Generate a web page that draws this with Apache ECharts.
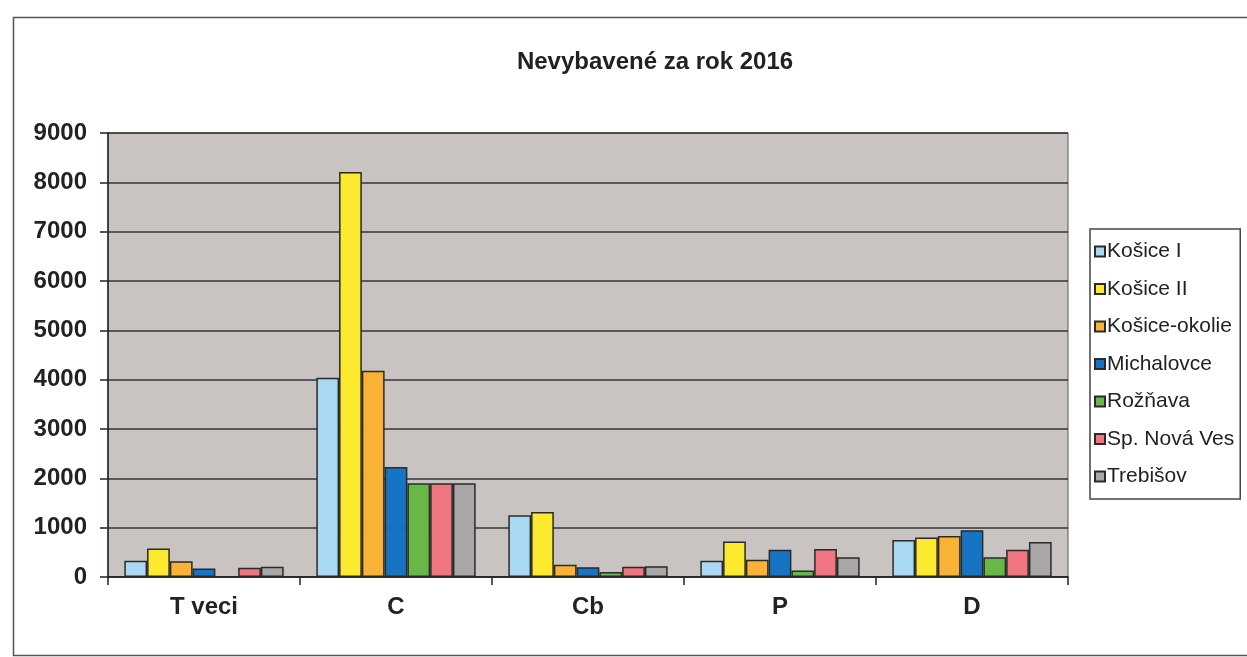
<!DOCTYPE html>
<html><head><meta charset="utf-8">
<script src="https://cdn.jsdelivr.net/npm/echarts@6/dist/echarts.min.js"></script>
<style>html,body{margin:0;padding:0;background:#fff}#c{width:1247px;height:657px}</style>
</head><body><div id="c"></div>
<script>
const categories = ['T veci', 'C', 'Cb', 'P', 'D'];
const seriesNames = ['Košice I', 'Košice II', 'Košice-okolie', 'Michalovce', 'Rožňava', 'Sp. Nová Ves', 'Trebišov'];
const kosiceI = [330, 4040, 1250, 330, 750];
const kosiceII = [580, 8210, 1320, 720, 800];
const kosiceOkolie = [320, 4180, 250, 350, 830];
const michalovce = [170, 2230, 200, 550, 950];
const roznava = [10, 1900, 100, 130, 400];
const spNovaVes = [190, 1900, 210, 570, 550];
const trebisov = [210, 1900, 220, 400, 710];
const yTicks = [0, 1000, 2000, 3000, 4000, 5000, 6000, 7000, 8000, 9000];
const colors = ['#a9d9f2', '#fde92d', '#f9b234', '#1674c2', '#68b848', '#ef7580', '#a9a6a6'];
const allData = [kosiceI, kosiceII, kosiceOkolie, michalovce, roznava, spNovaVes, trebisov];

const FONT = "'Liberation Sans Narrow', 'Liberation Sans', Arial, sans-serif";
const chart = echarts.init(document.getElementById('c'));
chart.setOption({
  animation: false,
  backgroundColor: '#fff',
  color: colors,
  title: {
    text: 'Nevybavené za rok 2016',
    left: 650, top: 45, textAlign: 'center',
    textStyle: {fontFamily: FONT, fontWeight: 'bold', fontSize: 24, color: '#222'}
  },
  graphic: [{
    type: 'rect', left: 11, top: 15, silent: true,
    shape: {width: 1250, height: 638},
    style: {fill: 'none', stroke: '#555', lineWidth: 1.5}
  }],
  legend: {
    orient: 'vertical', left: 1090, top: 229,
    width: 153,
    padding: [12, 6, 12, 4],
    itemGap: 16.5, itemWidth: 10, itemHeight: 10,
    borderColor: '#444', borderWidth: 1.5,
    icon: 'rect',
    textStyle: {fontFamily: FONT, fontSize: 21, color: '#222', padding: [0, 0, 0, -3]},
    data: seriesNames
  },
  grid: {
    left: 108, right: 179, top: 133, bottom: 80,
    show: true, backgroundColor: '#c9c4c1', borderColor: '#555', borderWidth: 1
  },
  xAxis: {
    type: 'category', data: categories,
    axisLine: {lineStyle: {color: '#222', width: 1.5}},
    axisTick: {show: true, length: 8, lineStyle: {color: '#222', width: 1.5}},
    axisLabel: {fontFamily: FONT, fontWeight: 'bold', fontSize: 24, color: '#222', margin: 18}
  },
  yAxis: {
    type: 'value', min: 0, max: 9000, interval: 1000,
    axisLine: {show: true, lineStyle: {color: '#222', width: 1.5}},
    axisTick: {show: true, length: 8, lineStyle: {color: '#222', width: 1.5}},
    axisLabel: {
      fontFamily: FONT, fontWeight: 'bold', fontSize: 24, color: '#222', margin: 21,
      formatter: v => yTicks.includes(v) ? String(v) : ''
    },
    splitLine: {lineStyle: {color: '#333', width: 1.5}}
  },
  series: seriesNames.map((n, i) => ({
    name: n, type: 'bar', data: allData[i],
    barGap: '0%', barCategoryGap: '17%',
    itemStyle: {color: colors[i], borderColor: '#2a2a2a', borderWidth: 1.5}
  }))
});
</script></body></html>
